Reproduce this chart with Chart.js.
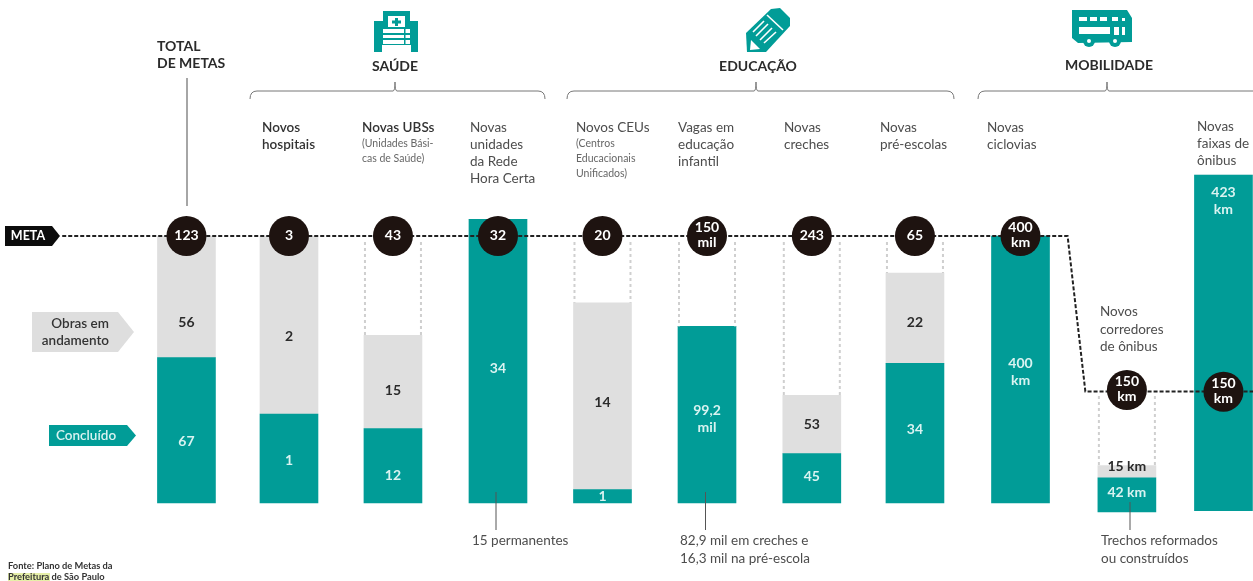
<!DOCTYPE html>
<html lang="pt-BR">
<head>
<meta charset="utf-8">
<title>Plano de Metas: andamento</title>
<style>
  html, body { margin: 0; padding: 0; background: #fff; }
  canvas { display: block; }
</style>
<script src="https://cdn.jsdelivr.net/npm/chart.js@4/dist/chart.umd.min.js"></script>
</head>
<body>
<canvas id="metas" width="1253" height="581"></canvas>
<script>
// Goals of the city plan, one column per goal
const goals = ['Total de metas', 'Novos hospitais', 'Novas UBSs', 'Novas unidades da Rede Hora Certa',
  'Novos CEUs', 'Vagas em educação infantil', 'Novas creches', 'Novas pré-escolas',
  'Novas ciclovias', 'Novos corredores de ônibus', 'Novas faixas de ônibus'];
const target = [123, 3, 43, 32, 20, 150, 243, 65, 400, 150, 150];
const finished = [67, 1, 12, 34, 1, 99.2, 45, 34, 400, 42, 423];
const underway = [56, 2, 15, 0, 14, 0, 53, 22, 0, 15, 0];

// Text printed on the marks
const targetText = [['123'], ['3'], ['43'], ['32'], ['20'], ['150', 'mil'], ['243'], ['65'], ['400', 'km'], ['150', 'km'], ['150', 'km']];
const finishedText = [['67'], ['1'], ['12'], ['34'], ['1'], ['99,2', 'mil'], ['45'], ['34'], ['400', 'km'], ['42 km'], ['423', 'km']];
const underwayText = [['56'], ['2'], ['15'], [], ['14'], [], ['53'], ['22'], [], ['15 km'], []];

// Column centres in slot units: the last column sits a little closer to its neighbour
const slots = [0, 0.982, 1.978, 2.984, 3.985, 4.986, 5.99, 6.978, 7.989, 9.008, 9.933];

// Dashed goal line, in slot units and share of goal on the main axis
const goalLineX = [-1.19, 8.44, 8.61, 10.3];
const goalLineY = [1, 1, 0.418, 0.418];

const TEAL = '#019c97', GREY = '#dfdfdf', INK = '#1e1310', TXT = '#4d4d4d', DARK = '#2b2b2b';
const FONT = 'Lato, sans-serif';

// Vertical placement of the printed values
const finishedTextY = [441, 460, 475, 368, 496, 410, 476, 429, 363, 492, 192];
const underwayTextY = [322, 336, 390, 0, 402, 0, 424, 322, 0, 466, 0];

// Three value axes: the main run, then the two bus goals hanging off the lowered goal line
const axisGroups = [
  { axis: 'yMain', members: [0, 1, 2, 3, 4, 5, 6, 7, 8] },
  { axis: 'yCorr', members: [9] },
  { axis: 'yLane', members: [10] }
];

const share = (v, i) => v / target[i];
const remainder = i => Math.max(0, 1 - (finished[i] + underway[i]) / target[i]);

const datasets = [];
axisGroups.forEach(group => {
  const bar = (role, colour, pick) => ({
    type: 'bar', role, members: group.members, yAxisID: group.axis, xAxisID: 'x', stack: 'col', order: 5,
    barThickness: 58, backgroundColor: colour, borderWidth: 0,
    data: group.members.map(i => ({ x: slots[i], y: pick(i) }))
  });
  datasets.push(bar('finished', TEAL, i => share(finished[i], i)));
  datasets.push(bar('underway', GREY, i => share(underway[i], i)));
  datasets.push(bar('open', 'rgba(0,0,0,0)', remainder));
  datasets.push({
    type: 'line', role: 'target', members: group.members, yAxisID: group.axis, xAxisID: 'x', order: 1,
    showLine: false, pointRadius: 20, pointHoverRadius: 20, pointBackgroundColor: INK, pointBorderWidth: 0,
    data: group.members.map(i => ({ x: slots[i], y: 1 }))
  });
});
datasets.push({
  type: 'line', role: 'goalLine', yAxisID: 'yMain', xAxisID: 'x', order: 2,
  borderColor: '#222', borderWidth: 2, borderDash: [4, 2], pointRadius: 0, tension: 0, fill: false,
  data: goalLineX.map((x, i) => ({ x, y: goalLineY[i] }))
});

function writeLines(ctx, lines, x, y, step, font, colour, align) {
  ctx.font = font; ctx.fillStyle = colour; ctx.textAlign = align || 'left'; ctx.textBaseline = 'middle';
  lines.forEach((s, k) => ctx.fillText(s, x, y + k * step));
}

// Dotted walls of the part of each goal still open
const openWalls = {
  id: 'openWalls',
  afterDatasetsDraw(chart) {
    const { ctx } = chart;
    ctx.save();
    ctx.strokeStyle = '#cfcfcf'; ctx.lineWidth = 2; ctx.setLineDash([3, 3]);
    chart.data.datasets.forEach((ds, d) => {
      if (ds.role !== 'open') return;
      chart.getDatasetMeta(d).data.forEach((el, k) => {
        if (ds.data[k].y <= 0) return;
        const p = el.getProps(['x', 'y', 'base', 'width'], true);
        [-1, 1].forEach(side => {
          const wx = p.x + side * (p.width / 2 - 1);
          ctx.beginPath(); ctx.moveTo(wx, p.y + 6); ctx.lineTo(wx, p.base); ctx.stroke();
        });
      });
    });
    ctx.restore();
  }
};

// Numbers inside the bars and inside the round goal markers
const markText = {
  id: 'markText',
  afterDatasetsDraw(chart) {
    const { ctx } = chart;
    ctx.save();
    chart.data.datasets.forEach((ds, d) => {
      const meta = chart.getDatasetMeta(d);
      if (ds.role === 'target') {
        meta.data.forEach((el, k) => {
          const t = targetText[ds.members[k]];
          const yy = el.y - 1 - (t.length - 1) * 7.5;
          writeLines(ctx, t, el.x, yy, 15, 'bold 14px ' + FONT, '#ffffff', 'center');
        });
      } else if (ds.role === 'finished' || ds.role === 'underway') {
        const isDone = ds.role === 'finished';
        meta.data.forEach((el, k) => {
          const i = ds.members[k];
          const t = isDone ? finishedText[i] : underwayText[i];
          const yy = isDone ? finishedTextY[i] : underwayTextY[i];
          if (t.length) writeLines(ctx, t, el.x, yy, 17, 'bold 14px ' + FONT, isDone ? '#d9f3f1' : DARK, 'center');
        });
      }
    });
    ctx.restore();
  }
};

function hospitalIcon(ctx) {
  ctx.fillStyle = TEAL;
  ctx.beginPath();
  [[383, 11], [410, 11], [410, 21], [418, 21], [418, 52], [411, 52], [411, 45], [382, 45], [382, 52], [374, 52], [374, 21], [383, 21]]
    .forEach((p, i) => i ? ctx.lineTo(p[0], p[1]) : ctx.moveTo(p[0], p[1]));
  ctx.closePath(); ctx.fill();
  ctx.fillStyle = '#fff';
  ctx.fillRect(388, 16, 17, 11);
  ctx.fillRect(383, 29, 27, 15);
  ctx.fillStyle = TEAL;
  ctx.fillRect(395, 18, 3, 8); ctx.fillRect(392, 20.5, 9, 3);
  ctx.fillRect(383, 33, 27, 2); ctx.fillRect(383, 38, 27, 2); ctx.fillRect(404, 29, 1.5, 15);
}

function pencilIcon(ctx) {
  ctx.fillStyle = TEAL;
  ctx.beginPath();
  [[746, 33], [771, 9], [780, 8], [790, 18], [790, 26], [766, 52], [747, 52]]
    .forEach((p, i) => i ? ctx.lineTo(p[0], p[1]) : ctx.moveTo(p[0], p[1]));
  ctx.closePath(); ctx.fill();
  ctx.strokeStyle = '#fff'; ctx.lineWidth = 1.6; ctx.lineCap = 'butt';
  [[[767, 15], [783, 30]], [[753, 32], [764, 21]], [[756, 36], [768, 24]], [[760, 40], [772, 28]], [[764, 43], [776, 32]]]
    .forEach(s => { ctx.beginPath(); ctx.moveTo(s[0][0], s[0][1]); ctx.lineTo(s[1][0], s[1][1]); ctx.stroke(); });
  ctx.fillStyle = '#fff';
  ctx.beginPath(); ctx.moveTo(751, 40); ctx.lineTo(760, 49); ctx.lineTo(750, 50); ctx.closePath(); ctx.fill();
}

function busIcon(ctx) {
  ctx.fillStyle = TEAL;
  ctx.beginPath();
  [[1072, 10], [1127, 10], [1132, 18], [1132, 42], [1078, 43], [1072, 38]]
    .forEach((p, i) => i ? ctx.lineTo(p[0], p[1]) : ctx.moveTo(p[0], p[1]));
  ctx.closePath(); ctx.fill();
  ctx.fillStyle = '#fff';
  [[1079, 17, 8, 4], [1090, 17, 7, 4], [1100, 17, 7, 4], [1112, 17, 6, 4], [1122, 18, 3, 3],
   [1079, 27, 31, 7], [1114, 27, 5, 8], [1122, 27, 3, 8]].forEach(r => ctx.fillRect(r[0], r[1], r[2], r[3]));
  [1089, 1115].forEach(cx => {
    ctx.fillStyle = TEAL; ctx.beginPath(); ctx.arc(cx, 41, 6, 0, 7); ctx.fill();
    ctx.fillStyle = '#fff'; ctx.beginPath(); ctx.arc(cx, 41, 2, 0, 7); ctx.fill();
  });
}

function brace(ctx, left, right, tip) {
  const y = 91;
  ctx.beginPath();
  ctx.moveTo(left, 99); ctx.quadraticCurveTo(left, y, left + 7, y);
  ctx.lineTo(tip - 2, y); ctx.quadraticCurveTo(tip, y, tip, 82);
  ctx.quadraticCurveTo(tip, y, tip + 2, y);
  if (right > 1253) { ctx.lineTo(1253, y); }
  else { ctx.lineTo(right - 7, y); ctx.quadraticCurveTo(right, y, right, 99); }
  ctx.stroke();
}

function tag(ctx, left, top, flat, tip, bottom, colour) {
  ctx.fillStyle = colour;
  ctx.beginPath();
  ctx.moveTo(left, top); ctx.lineTo(flat, top); ctx.lineTo(tip, (top + bottom) / 2);
  ctx.lineTo(flat, bottom); ctx.lineTo(left, bottom); ctx.closePath(); ctx.fill();
}

// Headings, category captions, key tags, leader lines and source note
const furniture = {
  id: 'furniture',
  afterDatasetsDraw(chart) {
    const { ctx } = chart;
    const h = 'bold 14px ' + FONT, body = '13.5px ' + FONT, strong = '600 13.5px ' + FONT, small = '10.5px ' + FONT;
    ctx.save();
    hospitalIcon(ctx); pencilIcon(ctx); busIcon(ctx);

    writeLines(ctx, ['TOTAL', 'DE METAS'], 157, 46, 17, h, DARK);
    writeLines(ctx, ['SAÚDE'], 395, 66, 0, h, DARK, 'center');
    writeLines(ctx, ['EDUCAÇÃO'], 758, 66, 0, h, DARK, 'center');
    writeLines(ctx, ['MOBILIDADE'], 1109, 65, 0, h, DARK, 'center');

    ctx.strokeStyle = '#777'; ctx.lineWidth = 1;
    brace(ctx, 250, 545, 395); brace(ctx, 567, 954, 756); brace(ctx, 978, 1300, 1107);

    ctx.strokeStyle = '#888'; ctx.lineWidth = 1.5;
    ctx.beginPath(); ctx.moveTo(187, 78); ctx.lineTo(187, 206); ctx.stroke();

    writeLines(ctx, ['Novos', 'hospitais'], 262, 128, 17, strong, '#333');
    writeLines(ctx, ['Novas UBSs'], 362, 128, 0, strong, '#333');
    writeLines(ctx, ['(Unidades Bási-', 'cas de Saúde)'], 362, 144, 15, small, '#666');
    writeLines(ctx, ['Novas', 'unidades', 'da Rede', 'Hora Certa'], 470, 128, 17, body, TXT);
    writeLines(ctx, ['Novos CEUs'], 576, 128, 0, body, TXT);
    writeLines(ctx, ['(Centros', 'Educacionais', 'Unificados)'], 576, 144, 15, small, '#666');
    writeLines(ctx, ['Vagas em', 'educação', 'infantil'], 678, 128, 17, body, TXT);
    writeLines(ctx, ['Novas', 'creches'], 784, 128, 17, body, TXT);
    writeLines(ctx, ['Novas', 'pré-escolas'], 880, 128, 17, body, TXT);
    writeLines(ctx, ['Novas', 'ciclovias'], 987, 128, 17, body, TXT);
    writeLines(ctx, ['Novas', 'faixas de', 'ônibus'], 1197, 127, 17, body, TXT);
    writeLines(ctx, ['Novos', 'corredores', 'de ônibus'], 1100, 312, 17.5, body, TXT);

    tag(ctx, 5, 226, 52, 60, 246, '#0c0c0c');
    writeLines(ctx, ['META'], 28, 236, 0, 'bold 12.5px ' + FONT, '#fff', 'center');
    tag(ctx, 32, 312, 118, 134, 352, '#dedede');
    writeLines(ctx, ['Obras em', 'andamento'], 109, 324, 17, '600 13.5px ' + FONT, '#333', 'right');
    tag(ctx, 49, 425, 127, 136, 446, TEAL);
    writeLines(ctx, ['Concluído'], 56, 436, 0, '600 13.5px ' + FONT, '#d9f3f1');

    ctx.strokeStyle = '#555'; ctx.lineWidth = 1;
    [[496, 492, 530], [705.5, 492, 530], [1130, 502, 530]].forEach(l => {
      ctx.beginPath(); ctx.moveTo(l[0], l[1]); ctx.lineTo(l[0], l[2]); ctx.stroke();
    });
    writeLines(ctx, ['15 permanentes'], 472, 541, 0, body, TXT);
    writeLines(ctx, ['82,9 mil em creches e', '16,3 mil na pré-escola'], 680, 541, 17.5, body, TXT);
    writeLines(ctx, ['Trechos reformados', 'ou construídos'], 1101, 541, 17.5, body, TXT);

    ctx.fillStyle = '#e6efa8'; ctx.fillRect(8, 573, 42, 8);
    writeLines(ctx, ['Fonte: Plano de Metas da'], 8, 566, 0, 'bold 9.3px ' + FONT, '#333');
    writeLines(ctx, ['Prefeitura de São Paulo'], 8, 577, 0, 'bold 9.3px ' + FONT, '#333');
    ctx.restore();
  }
};

new Chart(document.getElementById('metas'), {
  data: { datasets },
  options: {
    responsive: false,
    animation: false,
    events: [],
    layout: { padding: 0, autoPadding: false },
    plugins: { legend: { display: false }, tooltip: { enabled: false } },
    scales: {
      x: { type: 'linear', display: false, stacked: true, offset: false, min: -1.786, max: 10.216 },
      yMain: { type: 'linear', display: false, stacked: true, min: -78 / 267, max: 503 / 267 },
      yCorr: { type: 'linear', display: false, stacked: true, min: -69 / 122, max: 512 / 122 },
      yLane: { type: 'linear', display: false, stacked: true, min: -70.3 / 119, max: 510.7 / 119 }
    }
  },
  plugins: [openWalls, markText, furniture]
});
</script>
</body>
</html>
